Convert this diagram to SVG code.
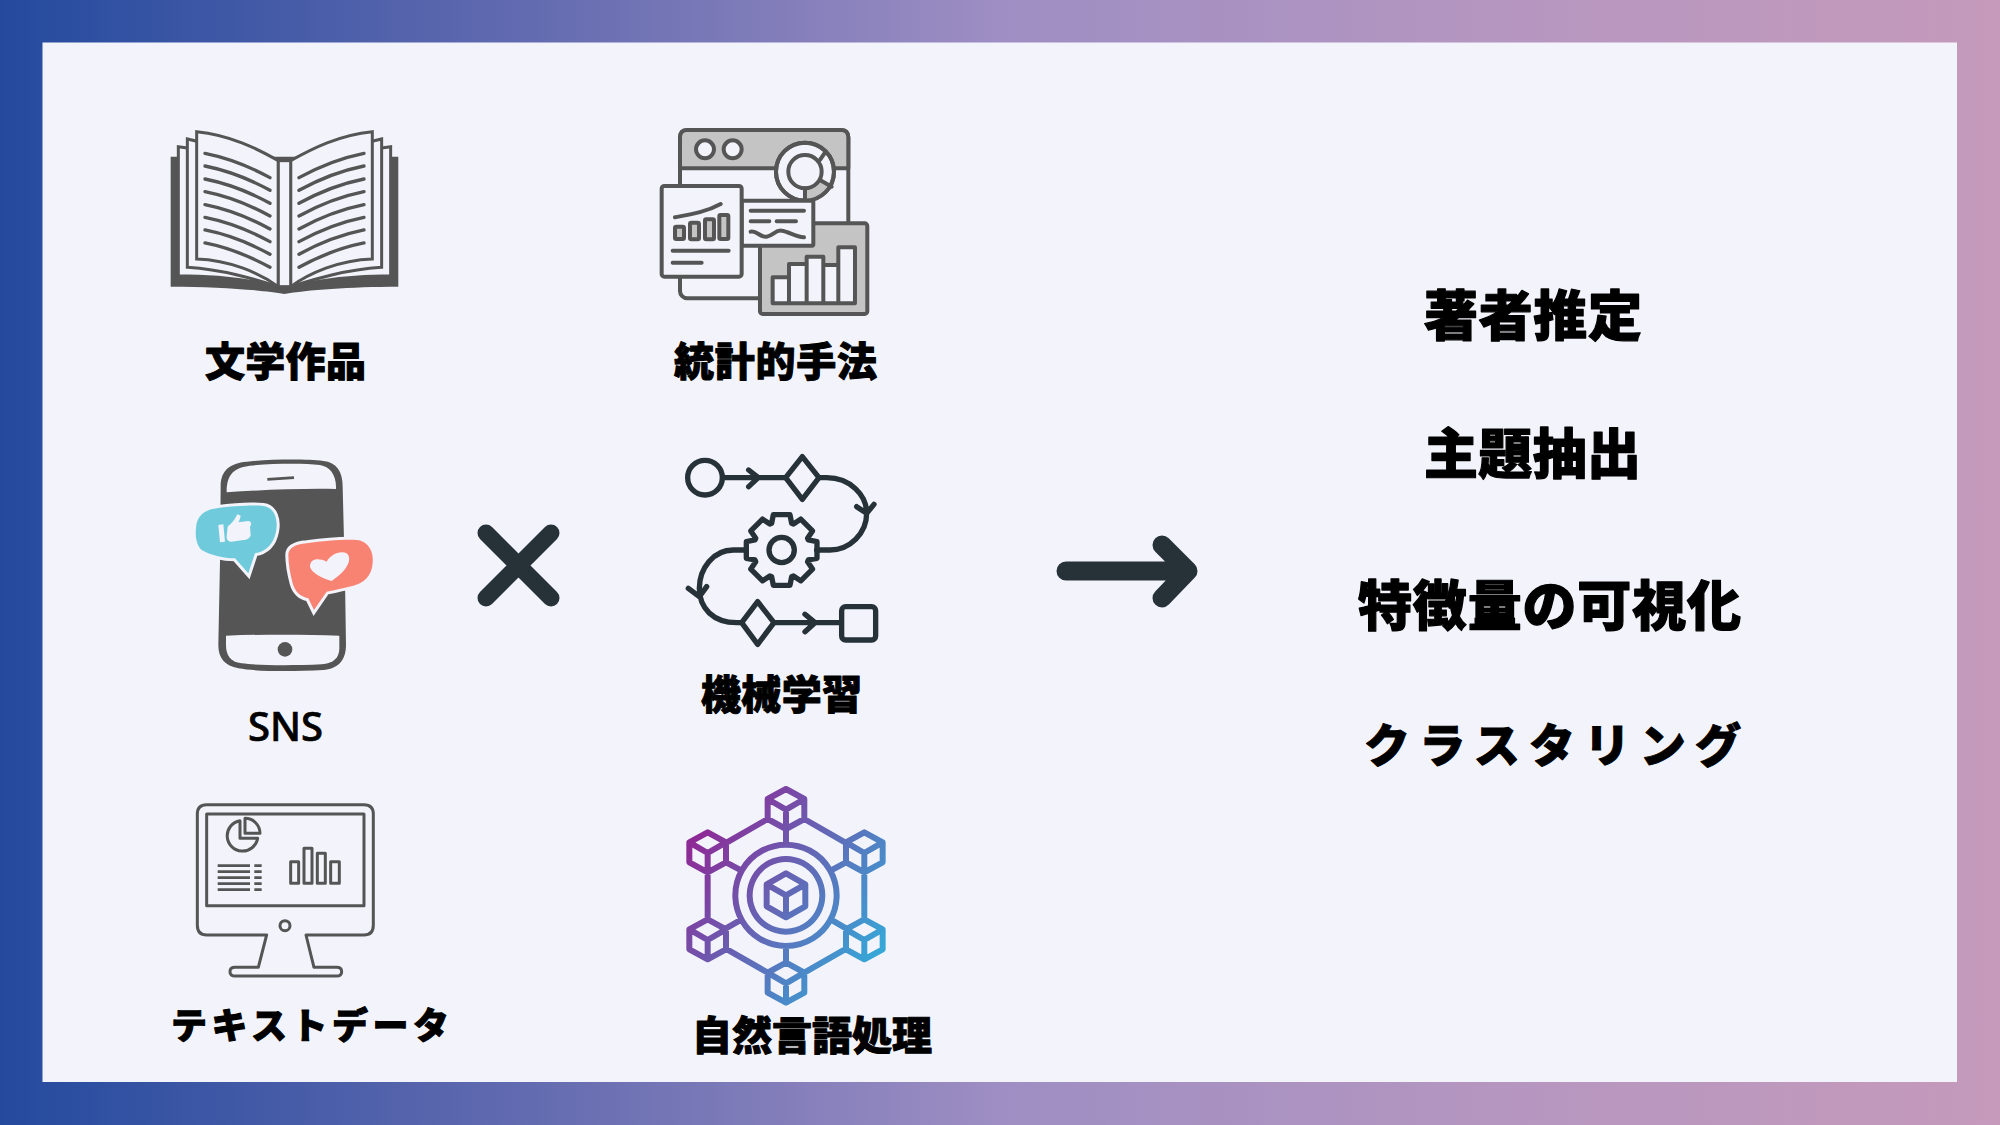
<svg xmlns="http://www.w3.org/2000/svg" width="2000" height="1125" viewBox="0 0 2000 1125">
<style>
.j{font-family:"Noto Sans CJK JP","Noto Sans",sans-serif;font-weight:900;fill:#000;stroke:#000;stroke-width:1;stroke-linejoin:round}
.s{font-size:40px}.l{font-size:54px;stroke-width:1.2}
.bk{fill:#f3f4fb;stroke:#555;stroke-width:9;stroke-linejoin:miter}
.bl{fill:none;stroke:#555;stroke-width:10;stroke-linecap:round}
.st{stroke:#555;stroke-width:12;stroke-linejoin:round;stroke-linecap:round}
.lt{fill:#f3f4fb}.gr{fill:#c4c4c4}.no{fill:none}
.fl{fill:none;stroke:#263238;stroke-width:16;stroke-linecap:round;stroke-linejoin:round}
.mo{fill:none;stroke:#555;stroke-width:9;stroke-linejoin:round}
.ar{fill:none;stroke:#263238;stroke-linecap:round;stroke-linejoin:round}
</style>
<defs>
<linearGradient id="bg" x1="0" x2="1" y1="0" y2="0"><stop offset="0" stop-color="#244a9e"/><stop offset="0.25" stop-color="#5f69af"/><stop offset="0.5" stop-color="#9e8ec3"/><stop offset="0.75" stop-color="#b596c0"/><stop offset="1" stop-color="#c59abb"/></linearGradient>
<linearGradient id="net" gradientUnits="userSpaceOnUse" x1="80" y1="170" x2="620" y2="540"><stop offset="0" stop-color="#8e2a96"/><stop offset="1" stop-color="#35a8d8"/></linearGradient>
<g id="page">
<path class="bk" d="M85,110 V497 C200,497 300,510 385,530 V152 Z"/>
<path class="bk" d="M112,87 V472 C230,480 320,510 385,530 V152 Z"/>
<path class="bk" d="M140,65 C240,75 320,115 385,152 V530 C330,490 240,450 140,447 Z"/>
<path class="bl" d="M165,130 C240,145 300,170 360,203 M165,168 C240,183 300,208 360,241 M165,207 C240,222 300,247 360,280 M165,245 C240,260 300,285 360,318 M165,284 C240,299 300,324 360,357 M165,322 C240,337 300,362 360,395 M165,360 C240,375 300,400 360,433 M165,399 C240,414 300,439 360,472"/>
</g>
</defs>
<rect id="frame" width="2000" height="1125" fill="url(#bg)"/>
<rect id="card" x="42.5" y="42.5" width="1914.5" height="1039.5" fill="#f3f4fb"/>

<g id="node-book">
<g transform="translate(150,110) scale(.3333)">
<path fill="#555" d="M62,140 H745 V530 C600,530 470,540 403,552 C340,540 200,530 62,530 Z"/>
<use href="#page"/>
<use href="#page" transform="translate(807,0) scale(-1,1)"/>
<rect class="bk" x="385" y="152" width="37" height="378"/>
</g>
<text class="j s" x="205" y="376" textLength="161" lengthAdjust="spacing">文学作品</text>
</g>

<g id="node-stats">
<g transform="translate(640,110) scale(.3333)">
<rect class="st lt" x="120" y="60" width="505" height="505" rx="22"/>
<path class="st gr" d="M120,175 V82 Q120,60 142,60 H603 Q625,60 625,82 V175 Z"/>
<circle class="st lt" cx="195" cy="118" r="27"/>
<circle class="st lt" cx="278" cy="118" r="27"/>
<circle class="st lt" cx="495" cy="185" r="87"/>
<path class="gr" d="M495,235 A50,50 0 0 0 540,210 L575,230 A87,87 0 0 1 495,270 Z"/>
<circle class="st no" cx="495" cy="185" r="87"/>
<circle class="st lt" cx="495" cy="185" r="50"/>
<path class="st no" d="M495,235 V270 M540,150 L557,125 M540,210 L575,230"/>
<rect class="st gr" x="360" y="340" width="322" height="272" rx="8"/>
<path class="st lt" d="M398,580 V502 H447 V462 H500 V440 H550 V465 H595 V412 H645 V580 Z M447,502 V580 M500,462 V580 M550,465 V580 M595,465 V580"/>
<rect class="st lt" x="305" y="272" width="215" height="135" rx="4"/>
<path class="st no" d="M332,302 H492 M332,334 H388 M410,334 H468 M332,365 C350,360 360,383 380,380 C400,378 405,360 425,362 C445,364 465,380 492,382"/>
<rect class="st lt" x="65" y="228" width="240" height="272" rx="8"/>
<path class="st no" d="M105,322 C160,312 200,305 242,282 M98,422 H266 M98,458 H185"/>
<rect class="st gr" x="105" y="350" width="27" height="37" rx="4"/>
<rect class="st gr" x="150" y="338" width="27" height="50" rx="4"/>
<rect class="st gr" x="195" y="328" width="27" height="60" rx="4"/>
<rect class="st gr" x="238" y="315" width="27" height="72" rx="4"/>
</g>
<text class="j s" x="674" y="376" textLength="203" lengthAdjust="spacing">統計的手法</text>
</g>

<g id="node-sns">
<g transform="translate(180,445) scale(.3333)">
<path fill="#555" d="M122,125 C122,75 150,55 200,50 C280,42 380,42 430,48 C470,52 488,80 488,125 L495,400 L498,600 C498,650 470,672 430,675 C340,680 230,680 175,670 C135,662 115,640 115,600 L120,350 Z"/>
<path class="lt" d="M140,140 C140,85 165,68 210,62 C290,55 370,55 420,60 C450,65 470,90 468,132 C360,130 240,135 140,142 Z"/>
<path d="M262,103 L342,98" stroke="#555" stroke-width="8" fill="none"/>
<path class="lt" d="M138,572 C250,568 370,568 478,572 L478,610 C478,640 460,655 425,658 C340,662 240,662 185,655 C150,650 138,630 138,600 Z"/>
<circle cx="315" cy="613" r="22" fill="#555"/>
<path fill="#6fcbdc" stroke="#f3f4fb" stroke-width="18" paint-order="stroke" d="M48,250 C50,215 70,195 110,190 C160,183 220,180 250,183 C285,188 295,225 288,260 C280,300 255,320 225,325 L205,385 L165,340 C130,340 90,330 65,315 C50,300 45,275 48,250 Z"/>
<path class="lt" d="M115,240 L130,238 L135,290 L120,292 Z M143,245 C150,240 165,225 172,208 L182,212 C180,222 178,228 175,232 L205,228 C215,228 215,240 210,245 L212,270 C210,280 200,285 190,285 L155,290 C145,290 140,285 140,275 Z"/>
<path fill="#f98372" stroke="#f3f4fb" stroke-width="18" paint-order="stroke" d="M325,330 C325,310 345,298 380,295 C430,288 490,283 530,285 C565,288 582,320 578,355 C575,395 550,415 520,422 C490,430 465,435 440,440 L402,495 L385,460 C360,455 345,440 338,415 C330,385 325,355 325,330 Z"/>
<path class="lt" d="M455,408 C430,400 395,385 390,365 C390,340 415,338 440,350 C450,330 480,315 500,325 C518,340 505,375 455,408 Z"/>
</g>
<text x="285.5" y="741" text-anchor="middle" font-family="'Noto Sans',sans-serif" font-weight="500" font-size="40" fill="#000" stroke="#000" stroke-width=".7">SNS</text>
</g>

<g id="node-ml">
<g transform="translate(670,445) scale(.3333)">
<circle class="fl" cx="105" cy="98" r="52"/>
<path class="fl" d="M158,98 H345 M236,75 L265,98 L236,125"/>
<path class="fl" d="M397,35 L447,98 L397,163 L347,98 Z"/>
<path class="fl" d="M447,98 H470 C540,98 590,150 590,205 C590,265 540,315 480,315 H440 M560,185 L590,205 L612,178"/>
<path class="fl" transform="translate(335,315)" d="M80,-30 L106,-25 V25 L80,30 L77.8,35.4 L92.6,57.3 L57.3,92.6 L35.4,77.8 L30,80 L25,106 H-25 L-30,80 L-35.4,77.8 L-57.3,92.6 L-92.6,57.3 L-77.8,35.4 L-80,30 L-106,25 V-25 L-80,-30 L-77.8,-35.4 L-92.6,-57.3 L-57.3,-92.6 L-35.4,-77.8 L-30,-80 L-25,-106 H25 L30,-80 L35.4,-77.8 L57.3,-92.6 L92.6,-57.3 L77.8,-35.4 Z"/>
<circle class="fl" cx="335" cy="315" r="38"/>
<path class="fl" d="M225,315 H190 C130,315 88,370 88,430 C88,490 130,533 200,533 H215 M55,430 L88,455 L110,425"/>
<path class="fl" d="M263,470 L312,533 L263,598 L215,533 Z"/>
<path class="fl" d="M312,533 H510 M405,508 L435,533 L405,560"/>
<rect class="fl" x="515" y="485" width="102" height="100" rx="12"/>
</g>
<text class="j s" x="701" y="709" textLength="161" lengthAdjust="spacing">機械学習</text>
</g>

<g id="node-text">
<g transform="translate(180,790) scale(.3333)">
<path class="mo" d="M260,435 H80 Q52,435 52,405 V72 Q52,44 80,44 H552 Q580,44 580,72 V405 Q580,435 552,435 H378 L402,532 H470 Q485,532 485,545 Q485,558 470,558 H165 Q150,558 150,545 Q150,532 165,532 H235 Z"/>
<rect class="mo" x="80" y="72" width="472" height="275"/>
<circle class="mo" cx="315" cy="407" r="15"/>
<path class="mo" d="M180,92 A46,46 0 1 0 233,145 H180 Z M195,85 A45,45 0 0 1 240,130 H195 Z"/>
<path fill="none" stroke="#555" stroke-width="8" d="M113,227 H210 M223,227 H245 M113,245 H210 M223,245 H245 M113,263 H210 M223,263 H245 M113,281 H210 M223,281 H245 M113,299 H210 M223,299 H245"/>
<rect class="mo" x="332" y="215" width="24" height="65"/>
<rect class="mo" x="372" y="175" width="24" height="105"/>
<rect class="mo" x="412" y="190" width="24" height="90"/>
<rect class="mo" x="452" y="215" width="26" height="65"/>
</g>
<text class="j" font-size="36" x="171" y="1039" textLength="278" lengthAdjust="spacing">テキストデータ</text>
</g>

<g id="node-nlp">
<g transform="translate(670,780) scale(.3333)">
<path fill="none" stroke="url(#net)" stroke-width="18" stroke-linejoin="round" d="M348,27 l55,30 v60 l-55,30 l-55,-30 v-60 z m-55,30 l55,32 l55,-32 m-55,32 v58 M113,157 l55,30 v60 l-55,30 l-55,-30 v-60 z m-55,30 l55,32 l55,-32 m-55,32 v58 M583,157 l55,30 v60 l-55,30 l-55,-30 v-60 z m-55,30 l55,32 l55,-32 m-55,32 v58 M113,418 l55,30 v60 l-55,30 l-55,-30 v-60 z m-55,30 l55,32 l55,-32 m-55,32 v58 M583,418 l55,30 v60 l-55,30 l-55,-30 v-60 z m-55,30 l55,32 l55,-32 m-55,32 v58 M348,548 l55,30 v60 l-55,30 l-55,-30 v-60 z m-55,30 l55,32 l55,-32 m-55,32 v58 M348,280 l58,33 v66 l-58,33 l-58,-33 v-66 z m-58,33 l58,33 l58,-33 m-58,33 v66 M403,117 L525,187 M293,117 L171,187 M113,277 V418 M583,277 V418 M171,508 L293,578 M525,508 L403,578 M348,147 V194 M348,498 V548 M168,247 L215,272 M168,445 L215,418 M528,247 L482,272 M528,445 L482,418 M348,194 a152,152 0 1 1 -0.01,0 z M348,237 a109,109 0 1 1 -0.01,0 z"/>
</g>
<text class="j s" x="692" y="1050" textLength="240" lengthAdjust="spacing">自然言語処理</text>
</g>

<g id="node-times">
<path class="ar" stroke-width="17" d="M486,533 L551,598 M551,533 L486,598"/>
</g>

<g id="connectors">
<path class="ar" stroke-width="19" d="M1066,571 H1186 M1162,545 L1188,571 L1162,598"/>
</g>

<g id="node-authorship"><text class="j l" x="1424" y="336" textLength="218" lengthAdjust="spacing">著者推定</text></g>
<g id="node-topic"><text class="j l" x="1424" y="474" textLength="217" lengthAdjust="spacing">主題抽出</text></g>
<g id="node-feature"><text class="j l" x="1358" y="626" textLength="383" lengthAdjust="spacing">特徴量の可視化</text></g>
<g id="node-cluster"><text class="j" font-size="46" stroke-width="1.2" x="1364" y="762" textLength="377" lengthAdjust="spacing">クラスタリング</text></g>
</svg>
